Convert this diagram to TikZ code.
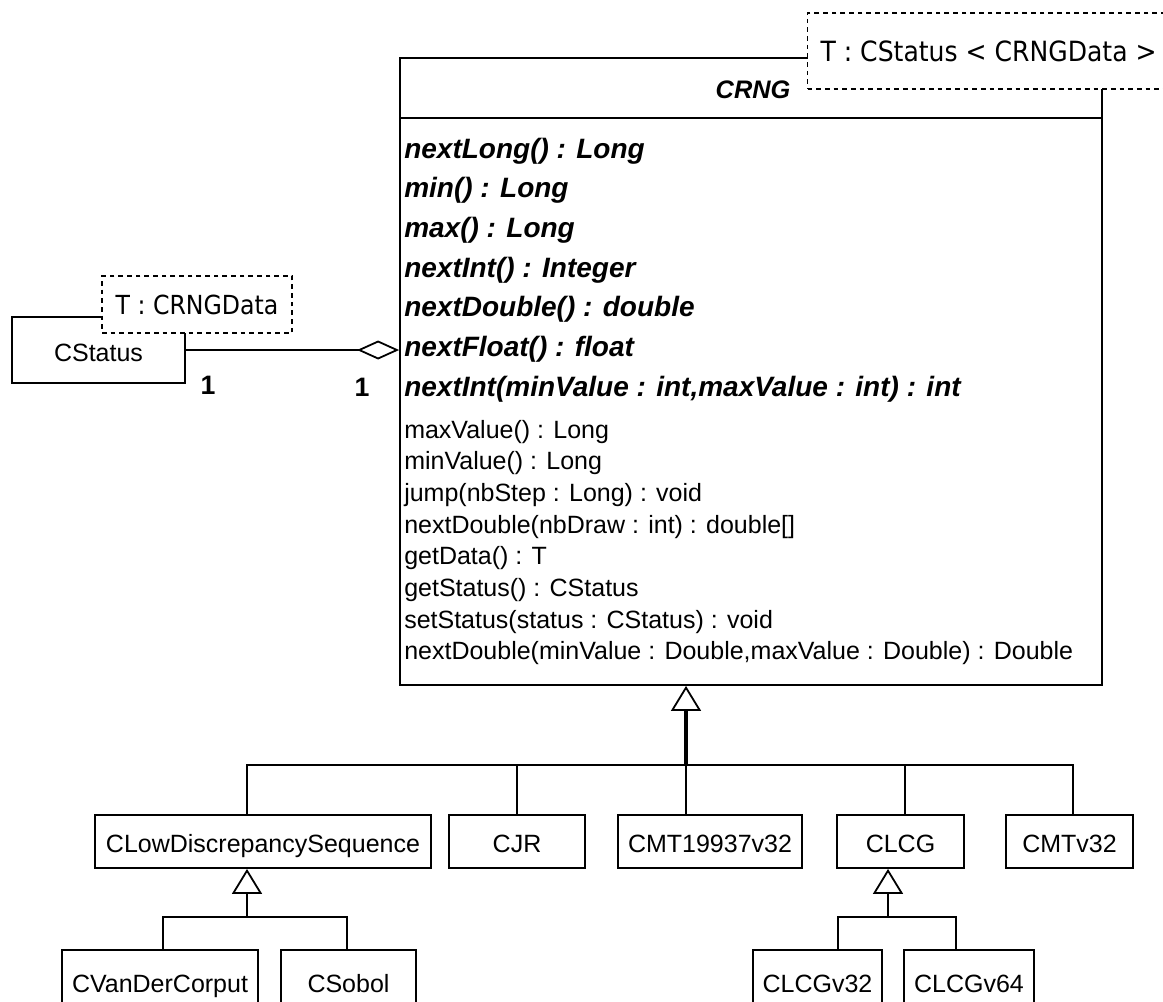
\documentclass[tikz,border=0pt]{standalone}
\usepackage{fontspec}
\setmainfont{Liberation Sans}
\newfontfamily\tplfont[FakeStretch=0.9]{DejaVu Sans}
\usetikzlibrary{arrows.meta}
\tikzset{
  ln/.style={line width=1.35pt},
  thickln/.style={line width=2.3pt},
  box/.style={draw, line width=1.35pt, inner sep=0pt, fill=white,
    font=\fontsize{18.75pt}{22pt}\selectfont, text height=17.2pt, text depth=0pt},
  topbox/.style={box, minimum height=39.75pt},
  subbox/.style={box, minimum height=46.5pt},
  imeth/.style={anchor=base west, inner sep=0pt, font=\fontsize{21pt}{25pt}\selectfont\bfseries\itshape},
  rmeth/.style={anchor=base west, inner sep=0pt, font=\fontsize{18.75pt}{22pt}\selectfont},
  tpl/.style={draw, line width=0.8pt, dash pattern=on 3.5pt off 3pt, fill=white, inner sep=0pt,
    text depth=0pt},
  gentip/.style={-{Triangle[open, length=18.75pt, width=22.5pt, line width=1.35pt]}},
  mult/.style={anchor=base, inner sep=0pt, font=\fontsize{20pt}{22pt}\selectfont\bfseries},
}
\begin{document}
\begin{tikzpicture}[x=0.75pt,y=-0.75pt]
\useasboundingbox (0,0) rectangle (1163,1001);
\clip (0,0) rectangle (1163,1001);

% CRNG class
\node[draw, line width=1.35pt, inner sep=0pt, minimum width=526.5pt, minimum height=470.25pt] (crng) at (751,371.5) {};
\coordinate (sepl) at (400,118);
\coordinate (sepr) at (1102,118);
\draw[ln] (sepl) -- (sepr);
\node[anchor=base, inner sep=0pt, font=\fontsize{19pt}{22pt}\selectfont\bfseries\itshape] (title) at (753,98) {CRNG};

\node[imeth] (m1) at (404,158) {nextLong() : Long};
\node[imeth] (m2) at (404,197.7) {min() : Long};
\node[imeth] (m3) at (404,237.4) {max() : Long};
\node[imeth] (m4) at (404,277.1) {nextInt() : Integer};
\node[imeth] (m5) at (404,316.8) {nextDouble() : double};
\node[imeth] (m6) at (404,356.5) {nextFloat() : float};
\node[imeth] (m7) at (404,396.2) {nextInt(minValue : int,maxValue : int) : int};
\node[rmeth] (r1) at (404,438) {maxValue() : Long};
\node[rmeth] (r2) at (404,469.7) {minValue() : Long};
\node[rmeth] (r3) at (404,501.4) {jump(nbStep : Long) : void};
\node[rmeth] (r4) at (404,533.1) {nextDouble(nbDraw : int) : double[]};
\node[rmeth] (r5) at (404,564.8) {getData() : T};
\node[rmeth] (r6) at (404,596.5) {getStatus() : CStatus};
\node[rmeth] (r7) at (404,628.2) {setStatus(status : CStatus) : void};
\node[rmeth] (r8) at (404,659.9) {nextDouble(minValue : Double,maxValue : Double) : Double};

% template parameter of CRNG
\node[tpl, anchor=west, inner xsep=9.75pt, minimum height=57pt, text height=15.2pt,
  font=\tplfont\fontsize{20.9pt}{24pt}\selectfont] (tplcrng) at (807,51) {T : CStatus < CRNGData >};

% CStatus class
\node[box, minimum width=129.75pt, minimum height=49.5pt] (cstatus) at (98.5,350) {CStatus};
\node[tpl, minimum width=142.5pt, minimum height=42.75pt, text height=14.4pt,
  font=\tplfont\fontsize{19.7pt}{23pt}\selectfont] (tplcs) at (197,304.5) {T : CRNGData};

% aggregation
\draw[line width=2.1pt, -{Diamond[open, length=31.5pt, width=14.25pt, line width=1.35pt]}]
  (cstatus.east) -- (cstatus.east -| crng.west);
\node[mult] (mulcs) at (208,394) {1};
\node[mult] (mulcr) at (362,396) {1};

% subclasses
\node[topbox, minimum width=252pt] (lds) at (263,841.5) {CLowDiscrepancySequence};
\node[topbox, minimum width=102pt] (cjr) at (517,841.5) {CJR};
\node[topbox, minimum width=138pt] (cmt) at (710,841.5) {CMT19937v32};
\node[topbox, minimum width=95.25pt] (clcg) at (900.5,841.5) {CLCG};
\node[topbox, minimum width=95.25pt] (cmtv) at (1069.5,841.5) {CMTv32};

\node[subbox, minimum width=147pt] (vdc) at (160,981) {CVanDerCorput};
\node[subbox, minimum width=101.25pt] (sob) at (348.5,981) {CSobol};
\node[subbox, minimum width=96.75pt] (lcg32) at (817.5,981) {CLCGv32};
\node[subbox, minimum width=97.5pt] (lcg64) at (969,981) {CLCGv64};

% generalization to CRNG
\coordinate (b0) at (686,765);
\coordinate (tb) at (686,710);
\draw[thickln] (b0) -- (tb);
\draw[ln, gentip] (tb) -- (tb |- crng.south);
\draw[ln] (b0) -| ([xshift=-12pt]lds.north);
\draw[ln] (b0) -| (cjr.north);
\draw[ln] (b0) -| ([xshift=-18pt]cmt.north);
\draw[ln] (b0) -| ([xshift=3.4pt]clcg.north);
\draw[ln] (b0) -| ([xshift=2.6pt]cmtv.north);

% generalization to CLowDiscrepancySequence
\coordinate (s1) at (247,917);
\draw[ln, gentip] (s1) -- (s1 |- lds.south);
\draw[ln] (s1) -| ([xshift=2.25pt]vdc.north);
\draw[ln] (s1) -| ([xshift=-1.1pt]sob.north);

% generalization to CLCG
\coordinate (s2) at (888,917);
\draw[ln, gentip] (s2) -- (s2 |- clcg.south);
\draw[ln] (s2) -| ([xshift=15.4pt]lcg32.north);
\draw[ln] (s2) -| ([xshift=-9.75pt]lcg64.north);
\end{tikzpicture}
\end{document}
